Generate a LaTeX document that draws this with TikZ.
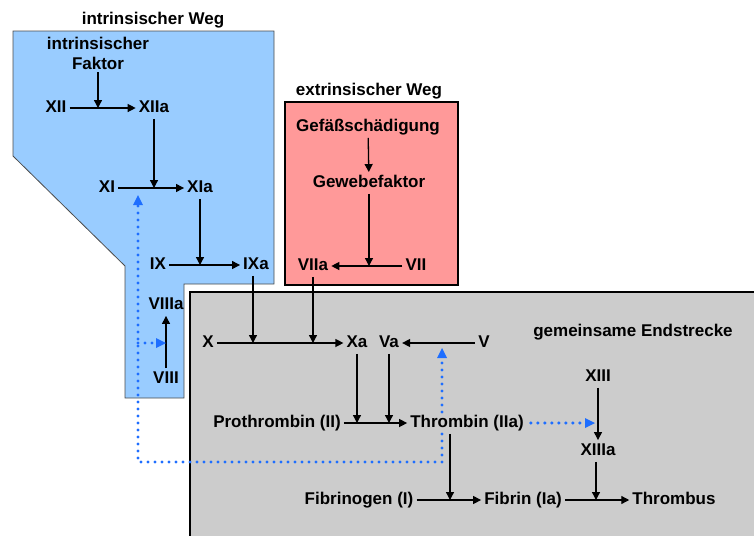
\documentclass[tikz,border=0pt]{standalone}
\usepackage{fontspec}
\setmainfont{Liberation Sans}
\usepackage{xcolor}
\usepackage{tikz}
\usetikzlibrary{arrows.meta, calc}

\definecolor{intblue}{RGB}{153,204,255}
\definecolor{extred}{RGB}{255,153,153}
\definecolor{endgray}{RGB}{204,204,204}
\definecolor{feedblue}{RGB}{30,110,255}

\tikzset{
  fac/.style={font=\fontsize{17}{20}\selectfont\bfseries, inner sep=3pt,
    text height=12pt, text depth=3.5pt},
  react/.style={-{Triangle[length=8pt,width=8pt]}, line width=1.3pt},
  feed/.style={feedblue, line width=3.3pt, line cap=round,
    dash pattern=on 0pt off 7pt,
    -{Triangle[length=10pt,width=10pt,line width=0pt]}}
}

\begin{document}
\begin{tikzpicture}[x=1pt, y=-1pt]
\useasboundingbox (0,0) rectangle (754,536);

% intrinsischer Weg
\draw[fill=intblue, draw=black!70, line width=0.8pt]
  (13,31) -- (274,31) -- (274,284) -- (184,284) -- (184,398)
  -- (125,398) -- (125,266) -- (13,156) -- cycle;
\node[fac] (intTitle) at (153,20) {intrinsischer Weg};
\node[fac, align=center, text height=, text depth=] (intF) at (98,53) {intrinsischer\\Faktor};
\node[fac] (XII) at (56,108) {XII};
\node[fac] (XIIa) at (154,108) {XIIa};
\node[fac] (XI) at (107,188) {XI};
\node[fac] (XIa) at (200,188) {XIa};
\node[fac] (IX) at (158,265) {IX};
\node[fac] (IXa) at (256,265) {IXa};
\node[fac] (VIIIa) at (166,305) {VIIIa};
\node[fac] (VIII) at (166,379) {VIII};

\draw[react] (XII) -- (XIIa);
\draw[react] (intF) -- (intF |- XII);
\draw[react] (XIIa) -- (XIIa |- XI);
\draw[react] (XI) -- (XIa);
\draw[react] (XIa) -- (XIa |- IX);
\draw[react] (IX) -- (IXa);
\draw[react] (VIII) -- (VIIIa);

% extrinsischer Weg
\draw[fill=extred, line width=1.6pt] (285,102) rectangle (458,285);
\node[fac] (extTitle) at (369,91) {extrinsischer Weg};
\node[fac] (gef) at (368,127) {Gefäßschädigung};
\node[fac] (gew) at (369,183) {Gewebefaktor};
\node[fac] (VIIa) at (313,266) {VIIa};
\node[fac] (VII) at (416,266) {VII};

\draw[react] (gef) -- (gew);
\draw[react] (VII) -- (VIIa);
\draw[react] (gew) -- (gew |- VII);

% gemeinsame Endstrecke (runs off the right and bottom edge)
\fill[endgray] (190,292) rectangle (754,536);
\draw[line width=2pt] (754,292) -- (190,292) -- (190,536);
\node[fac] (endTitle) at (633,332) {gemeinsame Endstrecke};
\node[fac] (X) at (208,343) {X};
\node[fac] (Xa) at (357,343) {Xa};
\node[fac] (Va) at (389,343) {Va};
\node[fac] (V) at (484,343) {V};
\node[fac] (II) at (277,423) {Prothrombin (II)};
\node[fac] (IIa) at (467,423) {Thrombin (IIa)};
\node[fac] (XIII) at (598,377) {XIII};
\node[fac] (XIIIa) at (598,451) {XIIIa};
\node[fac] (I) at (359,500) {Fibrinogen (I)};
\node[fac] (Ia) at (523,500) {Fibrin (Ia)};
\node[fac] (thr) at (674,500) {Thrombus};

\draw[react] (X) -- (Xa);
\draw[react] ([xshift=-3pt]IXa.south) -- ([xshift=-3pt]IXa.south |- X);
\draw[react] (VIIa) -- (VIIa |- X);
\draw[react] (V) -- (Va);
\draw[react] (II) -- (IIa);
\draw[react] (Xa) -- (Xa |- II);
\draw[react] (Va) -- (Va |- II);
\draw[react] ([xshift=-17pt]IIa.south) -- ([xshift=-17pt]IIa.south |- I);
\draw[react] (I) -- (Ia);
\draw[react] (Ia) -- (thr);
\draw[react] (XIII) -- (XIIIa);
\draw[react] ([xshift=-2pt]XIIIa.south) -- ([xshift=-2pt]XIIIa.south |- thr);

% Rueckkopplung durch Thrombin
\coordinate (fbDown) at ([xshift=-25pt]IIa.south);
\coordinate (fbUp) at ([xshift=-25pt]IIa.north);
\coordinate (fbLow) at (442,462);
\coordinate (onXI) at (138,195);
\coordinate (onV) at (442,348);
\coordinate (onVIII) at (VIII |- X);

\draw[feed] (fbDown) -- (fbLow) -| (onXI);
\draw[feed] (onXI |- X) -- (onVIII);
\draw[feed] (fbUp) -- (onV);
\draw[feed, shorten <=4pt, shorten >=3pt] (IIa.east) -- (IIa -| XIII);

\end{tikzpicture}
\end{document}
